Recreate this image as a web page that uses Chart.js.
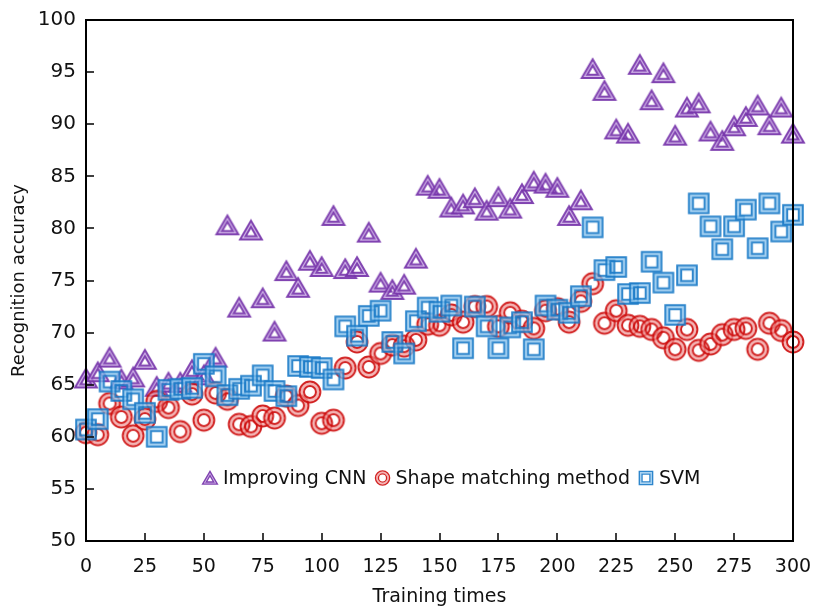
<!DOCTYPE html>
<html>
<head>
<meta charset="utf-8">
<script src="https://cdn.jsdelivr.net/npm/chart.js@4.4.0/dist/chart.umd.min.js"></script>
<style>
  html, body { margin: 0; padding: 0; background: #fff; }
</style>
</head>
<body>
<canvas id="chart" width="813" height="608"></canvas>
<script>
// training times on the x axis
const trainingTimes = [
  0, 5, 10, 15, 20, 25, 30, 35, 40, 45,
  50, 55, 60, 65, 70, 75, 80, 85, 90, 95,
  100, 105, 110, 115, 120, 125, 130, 135, 140, 145,
  150, 155, 160, 165, 170, 175, 180, 185, 190, 195,
  200, 205, 210, 215, 220, 225, 230, 235, 240, 245,
  250, 255, 260, 265, 270, 275, 280, 285, 290, 295,
  300
];

const improvingCnn = [
  65.6, 66.2, 67.6, 65.5, 65.7, 67.4, 64.8, 65.2, 65.2, 66.4,
  65.9, 67.6, 80.3, 72.4, 79.8, 73.3, 70.1, 75.9, 74.3, 76.9,
  76.3, 81.2, 76.1, 76.3, 79.6, 74.8, 74.1, 74.6, 77.1, 84.1,
  83.8, 82.0, 82.3, 82.9, 81.7, 83.0, 81.9, 83.3, 84.5, 84.3,
  83.9, 81.2, 82.7, 95.3, 93.2, 89.5, 89.1, 95.7, 92.3, 94.9,
  88.9, 91.6, 92.0, 89.3, 88.4, 89.8, 90.7, 91.8, 89.9, 91.6,
  89.1
];

const shapeMatching = [
  60.4, 60.2, 63.2, 61.9, 60.1, 61.7, 63.4, 62.8, 60.5, 64.1,
  61.6, 64.2, 63.6, 61.2, 61.0, 62.0, 61.8, 63.9, 63.0, 64.3,
  61.3, 61.6, 66.6, 69.1, 66.7, 68.0, 68.8, 68.7, 69.3, 70.8,
  70.7, 71.7, 71.0, 72.5, 72.5, 70.6, 71.9, 71.1, 70.4, 72.1,
  72.3, 71.0, 73.0, 74.7, 70.9, 72.1, 70.7, 70.6, 70.3, 69.5,
  68.4, 70.3, 68.3, 68.9, 69.8, 70.3, 70.4, 68.4, 70.9, 70.2,
  69.1
];

const svm = [
  60.7, 61.7, 65.3, 64.4, 63.6, 62.3, 60.0, 64.5, 64.6, 64.7,
  67.0, 65.8, 64.0, 64.6, 64.9, 65.9, 64.4, 63.9, 66.8, 66.7,
  66.6, 65.5, 70.6, 69.7, 71.6, 72.1, 69.1, 68.0, 71.1, 72.4,
  72.0, 72.6, 68.5, 72.5, 70.6, 68.5, 70.5, 71.0, 68.4, 72.6,
  72.2, 71.9, 73.5, 80.1, 76.0, 76.3, 73.7, 73.8, 76.8, 74.8,
  71.7, 75.5, 82.4, 80.2, 78.0, 80.2, 81.8, 78.1, 82.4, 79.7,
  81.3
];

const seriesNames = ['Improving CNN', 'Shape matching method', 'SVM'];

const FONT = '"DejaVu Sans", Verdana, sans-serif';

// marker sizes: outer line, light band, inner line
const SIZES = {
  triangle: { outer: 12.6, mid: 9.4, inner: 6.2 },
  circle:   { outer: 10.4, mid: 8.2, inner: 6.0 },
  rect:     { outer: 9.8,  mid: 7.8, inner: 5.8 }
};

function markerPath(ctx, shape, cx, cy, r) {
  ctx.beginPath();
  if (shape === 'circle') {
    ctx.arc(cx, cy, r, 0, Math.PI * 2);
  } else if (shape === 'rect') {
    ctx.rect(cx - r, cy - r, 2 * r, 2 * r);
  } else {
    ctx.moveTo(cx, cy - r);
    ctx.lineTo(cx + r * 0.866, cy + r * 0.5);
    ctx.lineTo(cx - r * 0.866, cy + r * 0.5);
    ctx.closePath();
  }
}

function drawMarker(ctx, shape, cx, cy, k, dark, light) {
  const s = SIZES[shape];
  // keep the triangle's box centred on the point
  const cyy = shape === 'triangle' ? cy + s.outer * k * 0.22 : cy;
  ctx.save();
  ctx.lineJoin = 'miter';
  markerPath(ctx, shape, cx, cyy, s.mid * k);
  ctx.lineWidth = 2.6 * k;
  ctx.strokeStyle = light;
  ctx.stroke();
  ctx.lineWidth = 2.0 * k;
  ctx.strokeStyle = dark;
  markerPath(ctx, shape, cx, cyy, s.outer * k);
  ctx.stroke();
  markerPath(ctx, shape, cx, cyy, s.inner * k);
  ctx.stroke();
  ctx.restore();
}

function makeMarker(shape, dark, light) {
  const c = document.createElement('canvas');
  c.width = 32; c.height = 32;
  drawMarker(c.getContext('2d'), shape, 16, 16, 1, dark, light);
  return c;
}

const styles = [
  { shape: 'triangle', dark: 'rgba(118,52,170,0.92)', light: 'rgba(196,160,226,0.75)' },
  { shape: 'circle',   dark: 'rgba(206,16,16,0.92)',  light: 'rgba(240,150,150,0.7)' },
  { shape: 'rect',     dark: 'rgba(28,124,200,0.92)', light: 'rgba(140,196,238,0.75)' }
];

const toPoints = vals => vals.map((v, i) => ({ x: trainingTimes[i], y: v }));
const allValues = [improvingCnn, shapeMatching, svm];

const datasets = allValues.map((vals, i) => ({
  label: seriesNames[i],
  data: toPoints(vals),
  pointStyle: makeMarker(styles[i].shape, styles[i].dark, styles[i].light),
  pointRadius: 11,
  showLine: false,
  clip: false,
  order: 2 - i
}));

// frame with inward ticks
const framePlugin = {
  id: 'frame',
  afterDatasetsDraw(chart) {
    const { ctx, chartArea: a, scales } = chart;
    ctx.save();
    ctx.strokeStyle = '#000';
    ctx.lineWidth = 2;
    ctx.strokeRect(a.left, a.top, a.right - a.left, a.bottom - a.top);
    ctx.lineWidth = 1.5;
    ctx.beginPath();
    scales.y.ticks.forEach(t => {
      const y = Math.round(scales.y.getPixelForValue(t.value));
      if (y <= a.top + 1 || y >= a.bottom - 1) return;
      ctx.moveTo(a.left, y);
      ctx.lineTo(a.left + 8, y);
    });
    scales.x.ticks.forEach(t => {
      const x = Math.round(scales.x.getPixelForValue(t.value));
      if (x <= a.left + 1 || x >= a.right - 1) return;
      ctx.moveTo(x, a.bottom);
      ctx.lineTo(x, a.bottom - 8);
    });
    ctx.stroke();
    ctx.restore();
  }
};

// legend sits inside the plot
const legendPlugin = {
  id: 'innerLegend',
  afterDraw(chart) {
    const { ctx, chartArea: a } = chart;
    ctx.save();
    ctx.font = '19px ' + FONT;
    ctx.fillStyle = '#111';
    ctx.textBaseline = 'middle';
    let x = a.left + 117;
    const y = a.top + 458;
    seriesNames.forEach((name, i) => {
      drawMarker(ctx, styles[i].shape, x + 7, y, 0.68, styles[i].dark, styles[i].light);
      ctx.fillText(name, x + 20, y + 1);
      x += 20 + ctx.measureText(name).width + 9;
    });
    ctx.restore();
  }
};

new Chart(document.getElementById('chart'), {
  type: 'scatter',
  data: { datasets },
  options: {
    responsive: false,
    animation: false,
    layout: { padding: { top: 20, right: 20, left: 0, bottom: 0 } },
    plugins: {
      legend: { display: false },
      tooltip: { enabled: false }
    },
    scales: {
      x: {
        type: 'linear',
        min: 0, max: 300,
        grid: { display: false, drawTicks: false },
        border: { display: false },
        ticks: { stepSize: 25, padding: 15, color: '#111', font: { family: FONT, size: 19 } },
        title: { display: true, text: 'Training times', color: '#111', font: { family: FONT, size: 19 }, padding: { top: 4, bottom: 0 } },
        afterFit(scale) {
          scale.height = 67;
          scale.paddingLeft = 0;
          scale.paddingRight = 0;
        }
      },
      y: {
        min: 50, max: 100,
        grid: { display: false, drawTicks: false },
        border: { display: false },
        ticks: { stepSize: 5, padding: 10, color: '#111', font: { family: FONT, size: 20 } },
        title: { display: true, text: 'Recognition accuracy', color: '#111', font: { family: FONT, size: 18 }, padding: { top: 9, bottom: 0 } },
        afterFit(scale) {
          scale.width = 86;
          scale.paddingTop = 0;
          scale.paddingBottom = 0;
        }
      }
    }
  },
  plugins: [framePlugin, legendPlugin]
});
</script>
</body>
</html>
